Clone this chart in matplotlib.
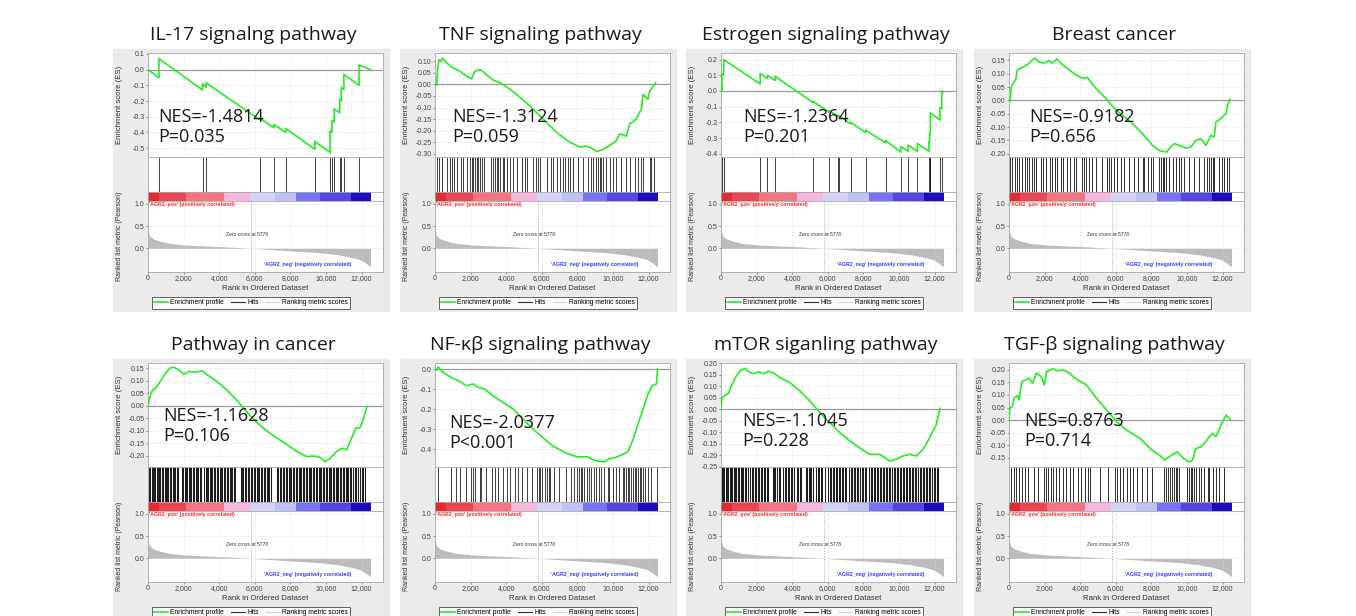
import numpy as np
import matplotlib
matplotlib.use("Agg")
import matplotlib.pyplot as plt
from matplotlib.lines import Line2D
from matplotlib.patches import Rectangle
from matplotlib.ticker import FuncFormatter, MultipleLocator

W, H = 1356, 616
N_GENES = 12500
ZERO_CROSS = 5778

titles = ["IL-17 signalng pathway", "TNF signaling pathway", "Estrogen signaling pathway",
          "Breast cancer", "Pathway in cancer", "NF-\u03ba\u03b2 signaling pathway",
          "mTOR siganling pathway", "TGF-\u03b2 signaling pathway"]
nes_text = ["NES=-1.4814", "NES=-1.3124", "NES=-1.2364", "NES=-0.9182",
            "NES=-1.1628", "NES=-2.0377", "NES=-1.1045", "NES=0.8763"]
p_text = ["P=0.035", "P=0.059", "P=0.201", "P=0.656",
          "P=0.106", "P<0.001", "P=0.228", "P=0.714"]

# --- enrichment score curves (rank, ES) ---
es_x_il17 = [0, 616, 616, 3064, 3064, 3263, 3263, 6290, 6290, 7070, 7070, 7740, 7740, 9372, 9372,
             10224, 10224, 10333, 10333, 10460, 10460, 10768, 10768, 10859, 10859, 11004, 11004,
             11856, 11856, 12500]
es_y_il17 = [0.0, -0.052, 0.07, -0.13, -0.09, -0.112, -0.085, -0.32, -0.31, -0.37, -0.35, -0.40,
             -0.375, -0.508, -0.458, -0.528, -0.39, -0.40, -0.325, -0.335, -0.25, -0.275, -0.19,
             -0.197, -0.115, -0.127, -0.03, -0.10, 0.03, 0.0]
hits_il17 = [616, 3064, 3263, 6290, 7070, 7740, 9372, 10224, 10333, 10460, 10768, 10859, 11004, 11856]

es_x_tnf = [0, 93, 130, 224, 336, 430, 654, 1028, 1402, 1776, 2056, 2243, 2523, 2673, 2990, 3271,
            3645, 4019, 4580, 5327, 6074, 6822, 7570, 8131, 8505, 8879, 9066, 9253, 9440, 9814,
            10188, 10375, 10749, 10936, 11310, 11590, 11683, 11963, 12056, 12400]
es_y_tnf = [0.0, -0.004, 0.05, 0.107, 0.10, 0.114, 0.093, 0.071, 0.057, 0.036, 0.024, 0.057, 0.064,
            0.057, 0.036, 0.019, 0.007, -0.01, -0.043, -0.093, -0.15, -0.207, -0.25, -0.271, -0.267,
            -0.279, -0.29, -0.286, -0.281, -0.264, -0.243, -0.214, -0.224, -0.171, -0.15, -0.107,
            -0.043, -0.064, -0.029, 0.007]
hits_tnf = [94, 243, 374, 655, 842, 935, 1066, 1216, 1440, 1590, 1777, 1964, 2057, 2151, 2244, 2338,
            2431, 2525, 2618, 2749, 3123, 3273, 3366, 3460, 3553, 3647, 3796, 3871, 4021, 4208, 4395,
            4619, 4862, 5049, 5180, 5517, 5666, 5797, 5891, 6265, 6489, 6639, 6826, 7013, 7200, 7293,
            7480, 7574, 7761, 8041, 8322, 8602, 8789, 8883, 9070, 9163, 9257, 9350, 9444, 9631, 9818,
            10005, 10192, 10472, 10753, 10940, 11220, 11407, 11594, 11688, 12062, 12155, 12286]

es_x_estr = [0, 56, 56, 150, 150, 2200, 2200, 2610, 2610, 3040, 3040, 5190, 5190, 6065, 6065, 6590,
             6590, 7280, 7280, 8120, 8120, 9240, 9240, 10100, 10100, 10510, 10510, 11030, 11030,
             11680, 11680, 11720, 11720, 11760, 11760, 12300, 12300, 12400, 12400, 12500]
es_y_estr = [0.0, -0.004, 0.11, 0.103, 0.20, 0.045, 0.11, 0.079, 0.10, 0.067, 0.093, -0.075, -0.068,
             -0.135, -0.125, -0.165, -0.155, -0.21, -0.20, -0.265, -0.25, -0.33, -0.315, -0.39,
             -0.355, -0.385, -0.345, -0.385, -0.335, -0.385, -0.325, -0.328, -0.27, -0.273, -0.14,
             -0.185, -0.105, -0.112, 0.0, -0.005]
hits_estr = [56, 150, 2200, 2610, 3040, 5190, 6065, 6590, 6620, 7280, 8120, 9240, 10100, 10510,
             11030, 11680, 11720, 11760, 12300, 12400]

es_x_breast = [0, 56, 131, 225, 375, 469, 656, 844, 1031, 1219, 1444, 1688, 1969, 2250, 2438, 2681,
               3000, 3375, 3750, 4125, 4406, 4875, 5438, 6000, 6375, 6938, 7500, 8063, 8438, 8850,
               9000, 9281, 9563, 9938, 10219, 10500, 10781, 11063, 11344, 11531, 11625, 11906,
               12188, 12281, 12412]
es_y_breast = [0.0, -0.005, 0.052, 0.064, 0.077, 0.115, 0.121, 0.127, 0.134, 0.146, 0.159, 0.144,
               0.14, 0.149, 0.14, 0.156, 0.134, 0.115, 0.096, 0.083, 0.086, 0.045, 0.008, -0.036,
               -0.055, -0.087, -0.125, -0.169, -0.188, -0.194, -0.181, -0.162, -0.169, -0.179,
               -0.175, -0.15, -0.144, -0.169, -0.131, -0.137, -0.081, -0.068, -0.049, -0.018, 0.005]
hits_breast = [56, 188, 338, 469, 563, 750, 900, 994, 1125, 1275, 1406, 1538, 1781, 1913, 2063,
               2306, 2438, 2569, 2719, 2906, 3038, 3281, 3413, 3656, 3788, 4125, 4219, 4313, 4500,
               4688, 4875, 5250, 5531, 5625, 5719, 5906, 6094, 6281, 6469, 6750, 7031, 7219, 7500,
               7594, 7781, 7969, 8063, 8438, 8531, 8625, 8719, 8813, 9000, 9188, 9375, 9525, 9656,
               9844, 10125, 10406, 10688, 10969, 11100, 11213, 11344, 11438, 11531, 11813, 11963,
               12094, 12225, 12338]

es_x_cancer = [0, 112, 243, 429, 616, 802, 989, 1232, 1455, 1735, 2015, 2295, 2668, 3042, 3321,
               3881, 4441, 5001, 5561, 6120, 6680, 7240, 7800, 8359, 8919, 9292, 9666, 9946, 10226,
               10599, 10879, 11159, 11439, 11681, 11905, 12092, 12300]
es_y_cancer = [0.0, 0.035, 0.062, 0.069, 0.089, 0.109, 0.13, 0.15, 0.153, 0.143, 0.126, 0.136, 0.134,
               0.139, 0.123, 0.096, 0.062, 0.021, -0.026, -0.067, -0.101, -0.128, -0.155, -0.182,
               -0.203, -0.2, -0.206, -0.223, -0.21, -0.182, -0.169, -0.176, -0.128, -0.088, -0.088,
               -0.054, -0.002]
hits_cancer = [30, 120, 200, 260, 350, 420, 480, 560, 640, 700, 780, 850, 930, 1000, 1080, 1150,
               1240, 1300, 1380, 1450, 1530, 1620, 1700, 1900, 1980, 2060, 2130, 2210, 2290, 2370,
               2440, 2520, 2600, 2680, 2750, 2830, 2900, 2980, 3150, 3230, 3300, 3380, 3460, 3540,
               3610, 3700, 3780, 3860, 3950, 4030, 4100, 4180, 4260, 4350, 4420, 4500, 4580, 4660,
               4740, 4820, 4900, 5200, 5280, 5360, 5440, 5520, 5600, 5680, 5760, 5850, 5930, 6010,
               6100, 6180, 6260, 6340, 6420, 6500, 6580, 6660, 6740, 6820, 6900, 7250, 7330, 7410,
               7490, 7570, 7650, 7730, 7810, 7900, 7980, 8060, 8140, 8220, 8300, 8380, 8460, 8540,
               8620, 8700, 8780, 8860, 8940, 9020, 9100, 9180, 9260, 9340, 9420, 9500, 9580, 9660,
               9740, 9820, 9900, 9980, 10060, 10140, 10220, 10300, 10380, 10460, 10540, 10620,
               10700, 10780, 10860, 10940, 11020, 11100, 11180, 11260, 11340, 11420, 11500, 11600,
               11700, 11800, 11900, 12000, 12100, 12200]

es_x_nfkb = [0, 57, 189, 435, 813, 1096, 1474, 1758, 2136, 2419, 2797, 3270, 3837, 4404, 4971,
             5538, 6105, 6672, 7428, 7995, 8562, 8940, 9507, 9790, 10074, 10452, 10830, 11113,
             11397, 11680, 11964, 12209, 12440, 12500]
es_y_nfkb = [0.0, -0.005, 0.012, -0.014, -0.036, -0.048, -0.065, -0.082, -0.073, -0.09, -0.099,
             -0.133, -0.167, -0.2, -0.252, -0.303, -0.346, -0.388, -0.422, -0.439, -0.439, -0.456,
             -0.465, -0.448, -0.444, -0.431, -0.414, -0.354, -0.277, -0.201, -0.124, -0.082,
             -0.073, 0.0]
hits_nfkb = [151, 907, 1191, 1380, 1758, 2041, 2136, 2230, 2514, 2608, 2892, 3175, 3364, 3553, 3837,
             4026, 4215, 4498, 4687, 4876, 5160, 5443, 5727, 5821, 5916, 6010, 6199, 6294, 6388,
             6483, 6672, 6955, 7333, 7617, 7806, 7995, 8089, 8184, 8278, 8373, 8562, 8656, 8751,
             8940, 9034, 9223, 9318, 9507, 9696, 9790, 9979, 10168, 10357, 10546, 10641, 10735,
             10830, 10924, 11019, 11113, 11208, 11302, 11397, 11491, 11586, 11680, 11775, 11964,
             12153, 12480]

es_x_mtor = [0, 56, 243, 429, 616, 802, 1082, 1362, 1549, 1829, 2109, 2388, 2668, 2948, 3321, 3881,
             4441, 5001, 5561, 6120, 6680, 7240, 7893, 8359, 8919, 9479, 9852, 10226, 10599, 10972,
             11345, 11625, 11905, 12092, 12300]
es_y_mtor = [0.0, 0.049, 0.06, 0.07, 0.107, 0.136, 0.167, 0.177, 0.162, 0.153, 0.162, 0.153, 0.164,
             0.157, 0.136, 0.114, 0.078, 0.034, -0.016, -0.06, -0.103, -0.139, -0.175, -0.197,
             -0.197, -0.226, -0.218, -0.204, -0.197, -0.204, -0.175, -0.139, -0.096, -0.067, 0.003]
hits_mtor = [40, 110, 190, 270, 330, 420, 500, 560, 640, 720, 790, 860, 950, 1020, 1100, 1170, 1250,
             1330, 1420, 1500, 1650, 1730, 1810, 1890, 1980, 2060, 2150, 2230, 2310, 2400, 2480,
             2560, 2650, 2900, 2980, 3060, 3150, 3230, 3320, 3500, 3580, 3660, 3750, 3830, 3920,
             4000, 4080, 4250, 4330, 4420, 4500, 4750, 4830, 4920, 5000, 5080, 5170, 5350, 5430,
             5520, 5600, 5700, 5850, 6000, 6100, 6180, 6270, 6350, 6440, 6520, 6610, 6700, 6780,
             6870, 6950, 7040, 7200, 7300, 7380, 7470, 7550, 7640, 7720, 7810, 7900, 7980, 8070,
             8150, 8300, 8400, 8480, 8570, 8650, 8740, 8830, 8910, 9000, 9090, 9170, 9260, 9350,
             9430, 9520, 9600, 9690, 9780, 9860, 9950, 10030, 10120, 10210, 10290, 10380, 10470,
             10550, 10640, 10720, 10810, 10900, 10980, 11070, 11160, 11240, 11330, 11420, 11500,
             11590, 11680, 11760, 11850, 11940, 12020, 12110, 12200]

es_x_tgf = [0, 57, 189, 284, 473, 567, 718, 945, 1134, 1323, 1550, 1796, 1985, 2117, 2457, 2741,
            3024, 3402, 3686, 4064, 4347, 4914, 5481, 6048, 6615, 7371, 8033, 8505, 8732, 8978,
            9450, 9828, 10112, 10301, 10490, 10773, 11057, 11246, 11435, 11624, 11907, 12191, 12437]
es_y_tgf = [0.0, 0.05, 0.054, 0.087, 0.098, 0.08, 0.153, 0.16, 0.167, 0.147, 0.187, 0.173, 0.14,
            0.193, 0.204, 0.196, 0.2, 0.187, 0.167, 0.151, 0.14, 0.087, 0.04, -0.006, -0.04, -0.073,
            -0.119, -0.142, -0.159, -0.146, -0.126, -0.153, -0.166, -0.159, -0.113, -0.106, -0.086,
            -0.066, -0.053, -0.066, -0.02, 0.02, 0.003]
hits_tgf = [132, 284, 416, 567, 756, 888, 1040, 1418, 1607, 1985, 2079, 2174, 2363, 2457, 2646, 2835,
            3024, 3213, 3402, 3591, 3875, 4064, 4253, 4442, 4536, 5103, 5576, 5954, 6048, 6237, 6426,
            6615, 6804, 6993, 7182, 7466, 7749, 8033, 8732, 8845, 8921, 9034, 9167, 9261, 9356, 9450,
            9545, 10017, 10112, 10206, 10301, 10395, 10490, 10679, 10773, 10962, 11151, 11246, 11435,
            11624, 11813, 12096]

# ES axis range, tick step, decimals
es_ylim = [(-0.557, 0.106), (-0.314, 0.136), (-0.421, 0.242), (-0.2125, 0.178),
           (-0.244, 0.17), (-0.49, 0.032), (-0.252, 0.2), (-0.186, 0.227)]
es_step = [0.1, 0.05, 0.1, 0.05, 0.05, 0.1, 0.05, 0.05]
es_dec = [1, 2, 1, 2, 2, 1, 2, 2]

# ranked list metric (shared) and the heat bar under the hits
metric_rank = [0, 90, 300, 670, 1200, 2100, 3400, 4500, 5778, 7000, 8100, 9400, 10600, 11400,
               11900, 12150, 12400, 12500]
metric_value = [0.42, 0.28, 0.21, 0.16, 0.11, 0.075, 0.05, 0.03, 0.0, -0.03, -0.06, -0.09, -0.14,
                -0.2, -0.25, -0.31, -0.38, -0.42]
bar_edges = [0, 600, 2150, 4250, 5750, 7150, 8300, 9650, 11400, 12500]
bar_colors = ['#e42a2e', '#ec4654', '#f67382', '#f4b8dc', '#d4d4f6', '#c0c0f6', '#7474f4',
              '#5446e4', '#1e0ac4']

panels = [
    (es_x_il17, es_y_il17, hits_il17), (es_x_tnf, es_y_tnf, hits_tnf),
    (es_x_estr, es_y_estr, hits_estr), (es_x_breast, es_y_breast, hits_breast),
    (es_x_cancer, es_y_cancer, hits_cancer), (es_x_nfkb, es_y_nfkb, hits_nfkb),
    (es_x_mtor, es_y_mtor, hits_mtor), (es_x_tgf, es_y_tgf, hits_tgf),
]

# layout in pixels
box_left = [113, 400, 686, 974]
row_top = [53, 363]
nes_dx = [10, 17, 22, 20, 15, 14, 21, 15]
nes_dy = [69, 69, 69, 69, 58, 65, 63, 63]
hit_lw = [0.6, 0.6, 0.6, 0.65, 0.75, 0.6, 0.75, 0.65]

XMAX = 13200
AX_FONT = "Liberation Sans"
BIG_FONT = "Open Sans"
FRAME = '#a8a8a8'


def px_axes(fig, x, y, w, h):
    return fig.add_axes([x / W, 1 - (y + h) / H, w / W, h / H])


def style(ax):
    for s in ax.spines.values():
        s.set_color(FRAME)
        s.set_linewidth(0.6)
    ax.set_xlim(0, XMAX)


def es_fmt(d):
    def f(v, _):
        if abs(v) < 1e-9:
            v = 0.0
        return f"{v:.{d}f}"
    return FuncFormatter(f)


fig = plt.figure(figsize=(W / 100, H / 100), dpi=100)

for i, (ex, ey, hits) in enumerate(panels):
    col, row = i % 4, i // 4
    bx = box_left[col]
    top = row_top[row]
    px = bx + 35

    fig.patches.append(Rectangle((bx / W, 1 - (top + 258) / H), 276 / W, 262 / H,
                                 transform=fig.transFigure, color='#ebebeb', zorder=-5))
    fig.text((bx + 140) / W, 1 - (top - 18) / H, titles[i], ha='center', va='center',
             fontsize=14, family=BIG_FONT, color='#1a1a1a')

    # enrichment score
    ax = px_axes(fig, px, top, 235, 104)
    style(ax)
    ax.plot(ex, ey, color='#22ee22', lw=1.2, zorder=3)
    ax.axhline(0, color='#9a9a9a', lw=0.9, zorder=2)
    ax.set_ylim(*es_ylim[i])
    ax.yaxis.set_major_locator(MultipleLocator(es_step[i]))
    ax.yaxis.set_major_formatter(es_fmt(es_dec[i]))
    ax.set_xticks(range(0, 12001, 2000))
    ax.tick_params(axis='x', length=0, labelbottom=False)
    ax.tick_params(axis='y', labelsize=5, length=1.5, width=0.4, colors='#444444', pad=1)
    for t in ax.get_yticklabels():
        t.set_family(AX_FONT)
    ax.grid(True, color='#d8d8d8', lw=0.4, ls=(0, (1, 1)))
    ax.set_ylabel("Enrichment score (ES)", fontsize=5.6, family=AX_FONT, color='#333333')
    ax.yaxis.set_label_coords(-0.105, 0.5)

    ax.text(nes_dx[i] / 235, 1 - nes_dy[i] / 104, nes_text[i], transform=ax.transAxes,
            fontsize=13, family=BIG_FONT, va='baseline', color='#1a1a1a', zorder=5)
    ax.text(nes_dx[i] / 235, 1 - (nes_dy[i] + 20) / 104, p_text[i], transform=ax.transAxes,
            fontsize=13, family=BIG_FONT, va='baseline', color='#1a1a1a', zorder=5)

    # hits
    axh = px_axes(fig, px, top + 104, 235, 35)
    style(axh)
    axh.vlines(hits, 0, 1, color='#1e1e1e', lw=hit_lw[i])
    axh.set_ylim(0, 1)
    axh.set_xticks([])
    axh.set_yticks([])

    # heat bar
    axc = px_axes(fig, px, top + 139, 235, 9)
    style(axc)
    for j, c in enumerate(bar_colors):
        axc.axvspan(bar_edges[j], bar_edges[j + 1], color=c, lw=0)
    axc.set_xticks([])
    axc.set_yticks([])

    # ranked list metric
    axr = px_axes(fig, px, top + 148, 235, 71)
    style(axr)
    axr.fill_between(metric_rank, metric_value, 0, color='#bcbcbc', lw=0)
    axr.axvline(ZERO_CROSS, color='#a0a0a0', ls=(0, (2, 2)), lw=0.5)
    axr.set_ylim(-0.53, 1.06)
    axr.set_yticks([0.0, 0.5, 1.0])
    axr.yaxis.set_major_formatter(FuncFormatter(lambda v, _: f"{v:.1f}"))
    axr.set_xticks(range(0, 12001, 2000))
    axr.xaxis.set_major_formatter(FuncFormatter(lambda v, _: f"{int(v):,}"))
    axr.tick_params(labelsize=5, length=1.5, width=0.4, colors='#444444', pad=1)
    for t in axr.get_xticklabels() + axr.get_yticklabels():
        t.set_family(AX_FONT)
    axr.grid(True, color='#d8d8d8', lw=0.4, ls=(0, (1, 1)))
    axr.set_xlabel("Rank in Ordered Dataset", fontsize=5.6, family=AX_FONT, color='#333333',
                   labelpad=1.5)
    axr.set_ylabel("Ranked list metric (Pearson)", fontsize=5, family=AX_FONT, color='#333333')
    axr.yaxis.set_label_coords(-0.105, 0.5)
    axr.text(60, 0.99, "'AGR2_pos' (positively correlated)", color='#ff2a2a', fontsize=3.8,
             family=AX_FONT, weight='bold', va='center')
    axr.text(ZERO_CROSS - 200, 0.31, "Zero cross at 5778", color='#333333', fontsize=3.6,
             family=AX_FONT, ha='center', va='center')
    axr.text(11400, -0.37, "'AGR2_neg' (negatively correlated)", color='#3a3aff', fontsize=3.8,
             family=AX_FONT, weight='bold', ha='right', va='center')

    handles = [Line2D([], [], color='#22ee22', lw=1.2), Line2D([], [], color='#333333', lw=0.8),
               Line2D([], [], color='#d6d6d6', lw=0.8)]
    leg = fig.legend(handles, ["Enrichment profile", "Hits", "Ranking metric scores"],
                     loc='center', bbox_to_anchor=((bx + 138) / W, 1 - (top + 250) / H), ncol=3,
                     prop={'family': AX_FONT, 'size': 4.8}, frameon=True, fancybox=False,
                     edgecolor='#202020', handlelength=2.0, columnspacing=1.1, borderpad=0.35,
                     handletextpad=0.4)
    leg.get_frame().set_linewidth(0.6)

fig.savefig("out.png", dpi=100, facecolor='white')
